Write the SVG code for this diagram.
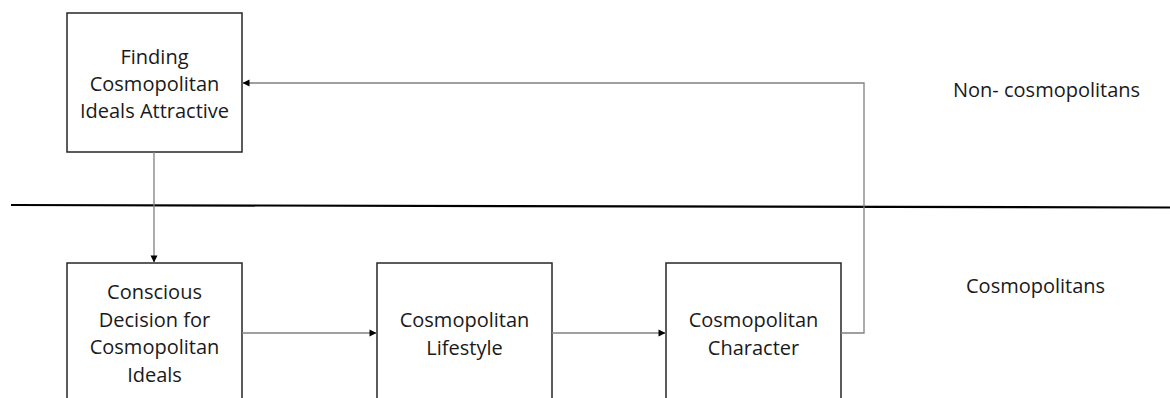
<svg xmlns="http://www.w3.org/2000/svg" width="1170" height="398" viewBox="0 0 1170 398">
<style>
.box{fill:#fff;stroke:#262626;stroke-width:1.5}
.t{font-family:"Open Sans","Liberation Sans",sans-serif;font-size:20px;fill:#1a1a1a;text-anchor:middle}
.lbl{font-family:"Open Sans","Liberation Sans",sans-serif;font-size:20px;fill:#1a1a1a}
.c{fill:none;stroke:#808080;stroke-width:1.3}
</style>
<defs>
<marker id="ah" markerUnits="userSpaceOnUse" markerWidth="10" markerHeight="10" viewBox="0 0 10 10" refX="8" refY="5" orient="auto">
<path d="M1,1.5 L8,5 L1,8.5 Z" fill="#000"/>
</marker>
</defs>
<line id="divider" x1="11" y1="205" x2="1170" y2="207.5" stroke="#000" stroke-width="2.2"/>
<g id="n1">
<rect class="box" x="67" y="13" width="175" height="139"/>
<text class="t" x="154.5" y="64">Finding</text>
<text class="t" x="154.5" y="91">Cosmopolitan</text>
<text class="t" x="154.5" y="118">Ideals Attractive</text>
</g>
<g id="n2">
<rect class="box" x="67" y="263" width="175" height="150"/>
<text class="t" x="154.5" y="299">Conscious</text>
<text class="t" x="154.5" y="327">Decision for</text>
<text class="t" x="154.5" y="354">Cosmopolitan</text>
<text class="t" x="154.5" y="382">Ideals</text>
</g>
<g id="n3">
<rect class="box" x="377" y="263" width="175" height="150"/>
<text class="t" x="464.5" y="327">Cosmopolitan</text>
<text class="t" x="464.5" y="355">Lifestyle</text>
</g>
<g id="n4">
<rect class="box" x="666" y="263" width="175" height="150"/>
<text class="t" x="753.5" y="327">Cosmopolitan</text>
<text class="t" x="753.5" y="355">Character</text>
</g>
<g id="labels">
<text class="lbl" x="953" y="97">Non- cosmopolitans</text>
<text class="lbl" x="966" y="293">Cosmopolitans</text>
</g>
<g id="connectors">
<line class="c" x1="154" y1="152" x2="154" y2="262.5" marker-end="url(#ah)"/>
<line class="c" x1="242" y1="333" x2="376.5" y2="333" marker-end="url(#ah)"/>
<line class="c" x1="552" y1="333" x2="665.5" y2="333" marker-end="url(#ah)"/>
<polyline class="c" points="841,333 864,333 864,83 242.5,83" marker-end="url(#ah)"/>
</g>
</svg>
